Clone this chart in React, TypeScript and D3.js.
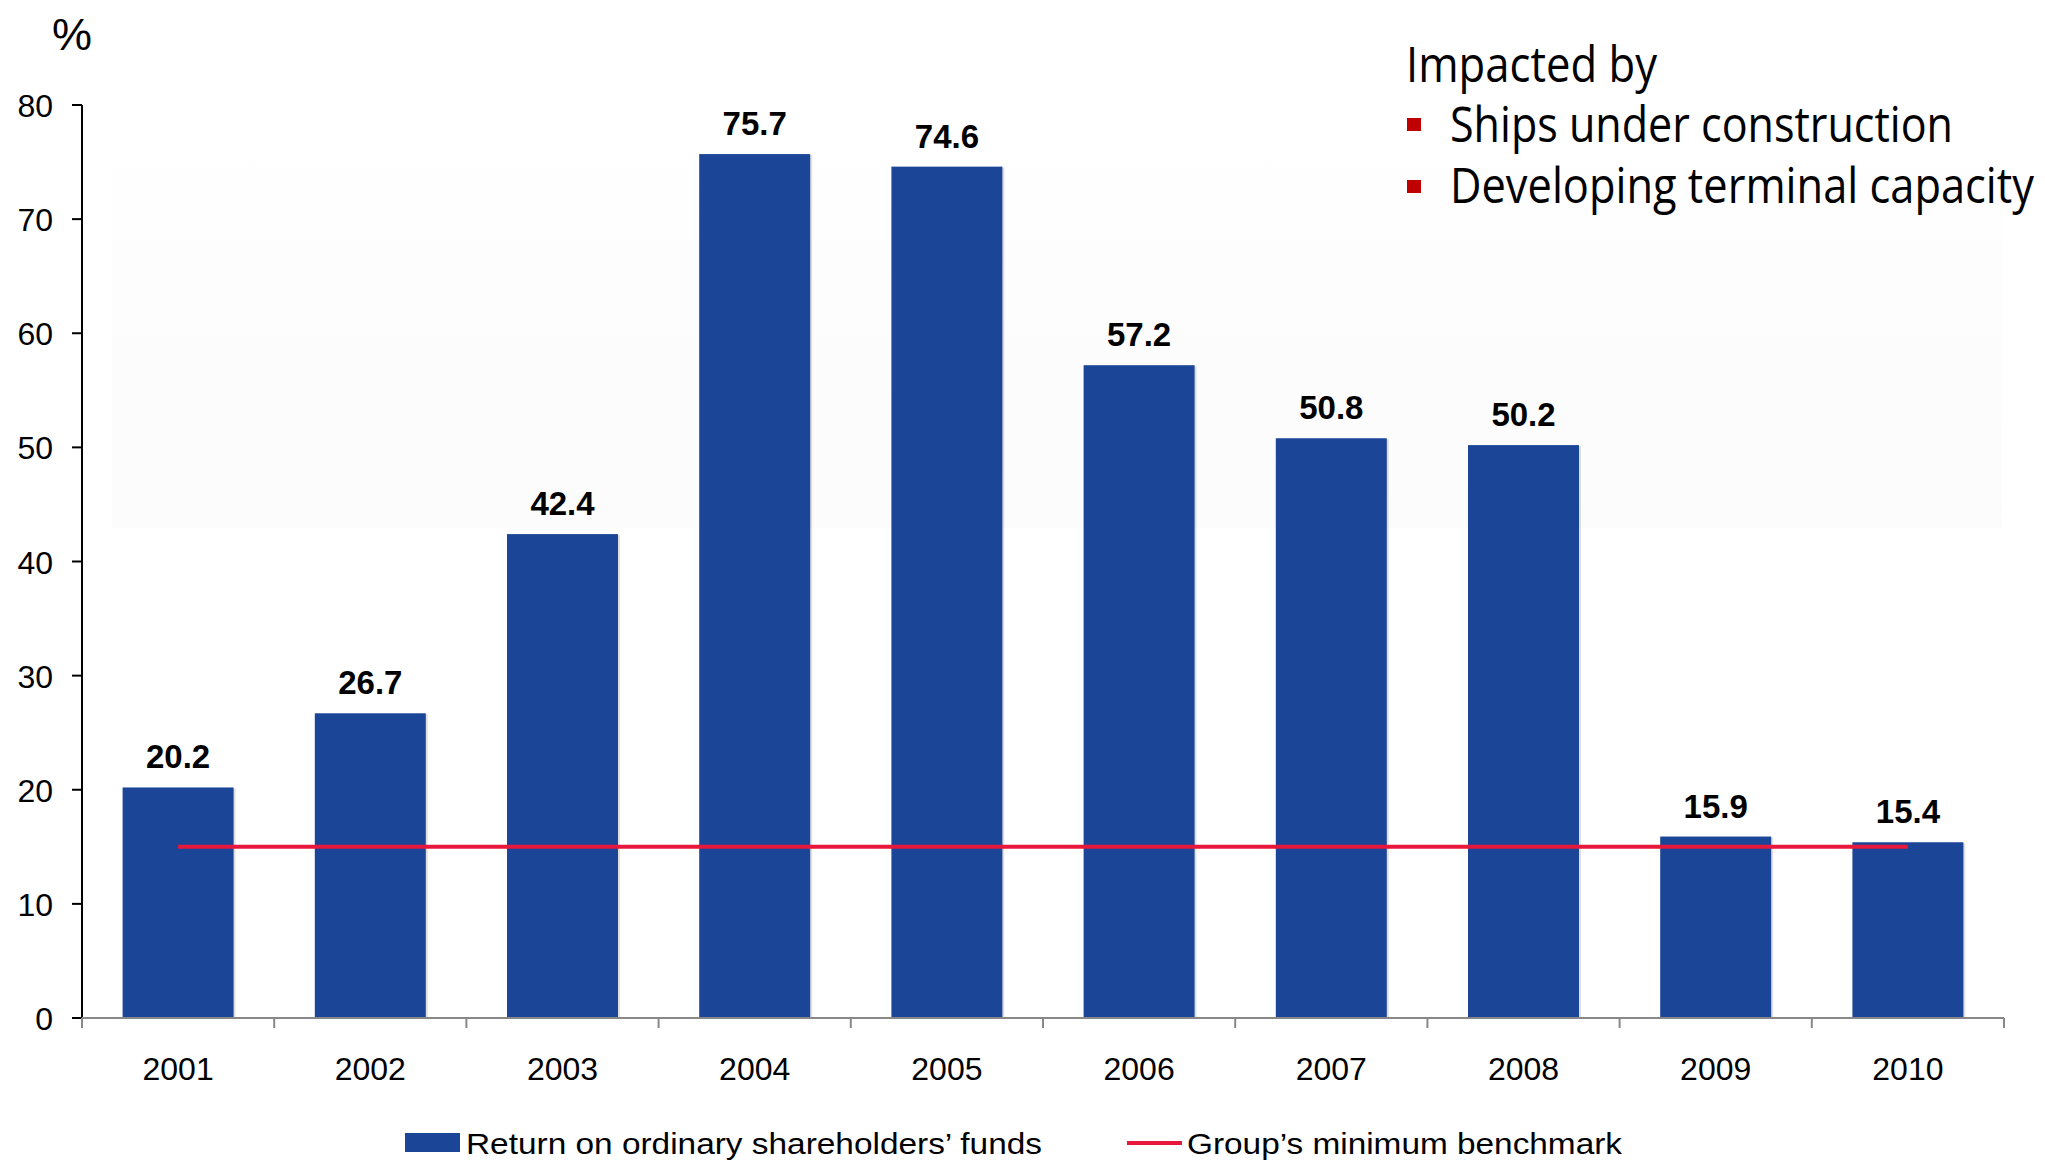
import React from "react";
import * as d3 from "d3";

const years = ["2001", "2002", "2003", "2004", "2005", "2006", "2007", "2008", "2009", "2010"];
const returns = [20.2, 26.7, 42.4, 75.7, 74.6, 57.2, 50.8, 50.2, 15.9, 15.4];
const benchmark = [15, 15, 15, 15, 15, 15, 15, 15, 15, 15];
const yTicks = [0, 10, 20, 30, 40, 50, 60, 70, 80];
const legendLabels = ["Return on ordinary shareholders\u2019 funds", "Group\u2019s minimum benchmark"];
const noteTitle = "Impacted by";
const noteItems = ["Ships under construction", "Developing terminal capacity"];

const W = 2045;
const H = 1163;
const BAR = "#1b4597";
const RED = "#e8173c";
const FONT = "'Liberation Sans', Arial, sans-serif";
const SX = 0.75;

export default function App() {
  const x = d3.scaleBand<string>().domain(years).range([82, 2004]).paddingInner(0.4225).paddingOuter(0.21125);
  const y = d3.scaleLinear().domain([0, 80]).range([1018, 105]);
  const step = x.step();
  const x0 = 82;
  const boundaries = d3.range(years.length + 1).map((i) => x0 + i * step);
  const cx = (yr: string) => (x(yr) as number) + x.bandwidth() / 2;
  const line = d3
    .line<number>()
    .x((_, i) => cx(years[i]))
    .y((v) => y(v));

  return (
    <svg width={W} height={H} style={{ position: "absolute", left: 0, top: 0, background: "#fff" }} fontFamily={FONT}>
      <defs>
        <linearGradient id="bg" x1="0" y1="0" x2="0" y2="1">
          <stop offset="0" stopColor="#ffffff" />
          <stop offset="0.3" stopColor="#fdfdfd" />
          <stop offset="1" stopColor="#fcfcfc" />
        </linearGradient>
      </defs>
      <rect x={112} y={140} width={1890} height={388} fill="url(#bg)" />

      {/* bars */}
      {years.map((yr, i) => (
        <g key={yr}>
          <rect x={(x(yr) as number) + 2} y={y(returns[i]) + 1} width={x.bandwidth()} height={y(0) - y(returns[i]) - 1} fill="#000" opacity={0.12} />
          <rect x={x(yr) as number} y={y(returns[i])} width={x.bandwidth()} height={y(0) - y(returns[i])} fill={BAR} />
          <text x={cx(yr)} y={y(returns[i]) - 19} textAnchor="middle" fontWeight="bold" fontSize={33} fill="#000">
            {returns[i].toFixed(1)}
          </text>
        </g>
      ))}

      {/* benchmark line */}
      <path d={line(benchmark) || ""} fill="none" stroke={RED} strokeWidth={4} />

      {/* y axis */}
      <line x1={82} x2={82} y1={y(80)} y2={y(0)} stroke="#000" strokeWidth={2} />
      {yTicks.map((t) => (
        <g key={t}>
          <line x1={72} x2={82} y1={y(t)} y2={y(t)} stroke="#000" strokeWidth={2} />
          <text x={53} y={y(t) + 12} textAnchor="end" fontSize={32} fill="#000">
            {t}
          </text>
        </g>
      ))}
      <text x={72} y={50} textAnchor="middle" fontSize={45} fill="#000">
        %
      </text>

      {/* x axis */}
      <line x1={82} x2={2004} y1={y(0)} y2={y(0)} stroke="#888" strokeWidth={2} />
      {boundaries.map((b, i) => (
        <line key={i} x1={b} x2={b} y1={y(0)} y2={y(0) + 10} stroke="#888" strokeWidth={2} />
      ))}
      {years.map((yr) => (
        <text key={yr} x={cx(yr)} y={1080} textAnchor="middle" fontSize={32} fill="#000">
          {yr}
        </text>
      ))}

      {/* legend */}
      <rect x={405} y={1133} width={55} height={19} fill={BAR} />
      <text x={466} y={1154} fontSize={30} fill="#000" textLength={576} lengthAdjust="spacingAndGlyphs">
        {legendLabels[0]}
      </text>
      <line x1={1127} x2={1182} y1={1143} y2={1143} stroke={RED} strokeWidth={4} />
      <text x={1187} y={1154} fontSize={30} fill="#000" textLength={435} lengthAdjust="spacingAndGlyphs">
        {legendLabels[1]}
      </text>

      {/* annotation */}
      <g fontFamily="'Open Sans', 'Noto Sans', sans-serif" fill="#000">
        <text transform={`translate(1406,82) scale(${SX},1)`} fontSize={50} textLength={251 / SX} lengthAdjust="spacingAndGlyphs">
          {noteTitle}
        </text>
        <rect x={1407} y={118} width={14} height={13} fill="#c00000" />
        <text transform={`translate(1450,142) scale(${SX},1)`} fontSize={49} textLength={503 / SX} lengthAdjust="spacingAndGlyphs">
          {noteItems[0]}
        </text>
        <rect x={1407} y={180} width={14} height={13} fill="#c00000" />
        <text transform={`translate(1450,203) scale(${SX},1)`} fontSize={49} textLength={584 / SX} lengthAdjust="spacingAndGlyphs">
          {noteItems[1]}
        </text>
      </g>
    </svg>
  );
}
